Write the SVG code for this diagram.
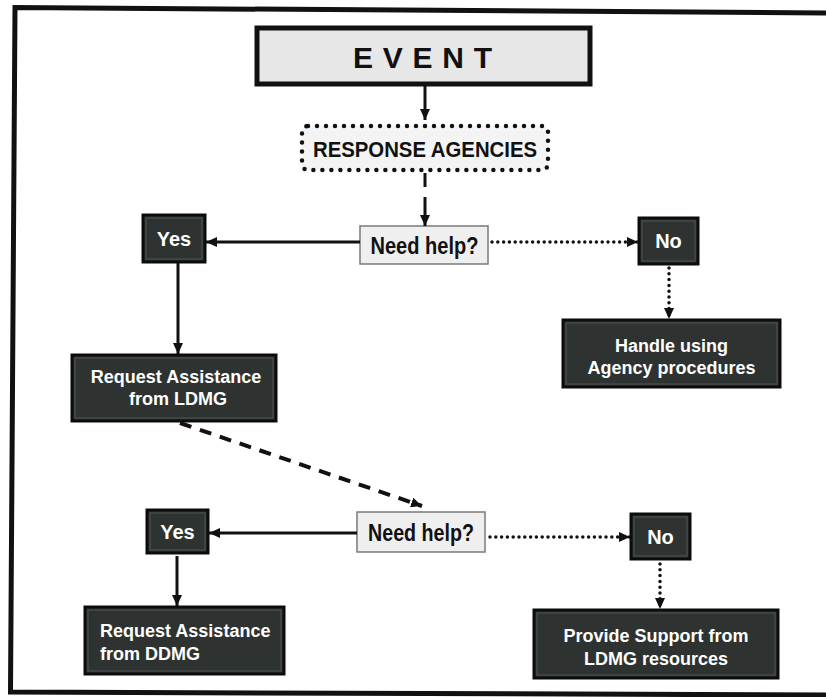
<svg xmlns="http://www.w3.org/2000/svg" width="826" height="697" viewBox="0 0 826 697">
<defs>
<style>
.dark rect.box{fill:#2e3331;stroke:#0c0c0c;stroke-width:3}
.dark rect.rim{fill:none;stroke:#4a504e;stroke-width:1.2}
.wt{fill:#ffffff;font-family:"Liberation Sans",Arial,sans-serif;font-weight:bold;font-size:18px}
.yn{font-size:20px}
.q rect{fill:#efefef;stroke:#7a7a7a;stroke-width:1.5}
.bt{fill:#111;font-family:"Liberation Sans Narrow","Liberation Sans",Arial,sans-serif;font-weight:bold;font-size:24px}
.solid{fill:none;stroke:#111;stroke-width:3}
.dot{fill:none;stroke:#111;stroke-width:3.5;stroke-dasharray:0 5.8;stroke-linecap:round}
.dash{fill:none;stroke:#111;stroke-width:4;stroke-dasharray:12 9}
</style>
<marker id="ah" markerUnits="userSpaceOnUse" markerWidth="12" markerHeight="10" refX="11" refY="5" orient="auto">
<path d="M0,0 L11,5 L0,10 z" fill="#111"/>
</marker>
</defs>
<rect width="826" height="697" fill="#ffffff"/>
<path d="M826 13 L15 7.5 L10.5 692 L826 695" fill="none" stroke="#111" stroke-width="5"/>

<g id="event">
<rect x="257" y="28" width="333" height="56" fill="#e6e7e6" stroke="#111" stroke-width="5"/>
<text x="422.5" y="68" text-anchor="middle" textLength="139" lengthAdjust="spacing" style="fill:#111;font-family:'Liberation Sans',Arial,sans-serif;font-weight:bold;font-size:30px">EVENT</text>
</g>

<g id="response-agencies">
<rect x="302" y="126" width="246" height="44" rx="6" fill="#f4f4f4" stroke="#111" stroke-width="4.5" stroke-dasharray="0 9" stroke-linecap="round"/>
<text class="bt" x="425" y="157" text-anchor="middle" textLength="224" lengthAdjust="spacingAndGlyphs" style="font-size:22px">RESPONSE AGENCIES</text>
</g>

<g id="need-help-1" class="q">
<rect x="360" y="226" width="128" height="38"/>
<text class="bt" x="424.5" y="254" text-anchor="middle" textLength="108" lengthAdjust="spacingAndGlyphs">Need help?</text>
</g>

<g id="yes-1" class="dark">
<rect class="box" x="143" y="215" width="62" height="47"/>
<rect class="rim" x="146" y="218" width="56" height="41"/>
<text class="wt yn" x="174" y="246" text-anchor="middle">Yes</text>
</g>

<g id="no-1" class="dark">
<rect class="box" x="639" y="218" width="59" height="46"/>
<rect class="rim" x="642" y="221" width="53" height="40"/>
<text class="wt yn" x="668.5" y="248" text-anchor="middle">No</text>
</g>

<g id="handle-agency" class="dark">
<rect class="box" x="563" y="320" width="217" height="67"/>
<rect class="rim" x="566" y="323" width="211" height="61"/>
<text class="wt" x="671.5" y="352" text-anchor="middle">Handle using</text>
<text class="wt" x="671.5" y="374" text-anchor="middle">Agency procedures</text>
</g>

<g id="request-ldmg" class="dark">
<rect class="box" x="72" y="355" width="204" height="66"/>
<rect class="rim" x="75" y="358" width="198" height="60"/>
<text class="wt" x="176" y="383" text-anchor="middle">Request Assistance</text>
<text class="wt" x="178" y="405" text-anchor="middle">from LDMG</text>
</g>

<g id="need-help-2" class="q">
<rect x="357" y="512" width="128" height="40"/>
<text class="bt" x="421" y="541" text-anchor="middle" textLength="106" lengthAdjust="spacingAndGlyphs">Need help?</text>
</g>

<g id="yes-2" class="dark">
<rect class="box" x="147" y="510" width="61" height="43"/>
<rect class="rim" x="150" y="513" width="55" height="37"/>
<text class="wt yn" x="177.5" y="539" text-anchor="middle">Yes</text>
</g>

<g id="no-2" class="dark">
<rect class="box" x="631" y="514" width="59" height="45"/>
<rect class="rim" x="634" y="517" width="53" height="39"/>
<text class="wt yn" x="660.5" y="544" text-anchor="middle">No</text>
</g>

<g id="request-ddmg" class="dark">
<rect class="box" x="85" y="607" width="199" height="67"/>
<rect class="rim" x="88" y="610" width="193" height="61"/>
<text class="wt" x="100" y="637">Request Assistance</text>
<text class="wt" x="100" y="660">from DDMG</text>
</g>

<g id="provide-support" class="dark">
<rect class="box" x="534" y="610" width="244" height="68"/>
<rect class="rim" x="537" y="613" width="238" height="62"/>
<text class="wt" x="656" y="642" text-anchor="middle">Provide Support from</text>
<text class="wt" x="656" y="665" text-anchor="middle">LDMG resources</text>
</g>

<g id="connectors">
<line class="solid" x1="425" y1="86" x2="425" y2="120" marker-end="url(#ah)"/>
<line class="solid" x1="425" y1="173" x2="425" y2="226" stroke-dasharray="14 10 40" marker-end="url(#ah)"/>
<line class="solid" x1="360" y1="242" x2="206" y2="242" marker-end="url(#ah)"/>
<line class="dot" x1="492" y1="242" x2="638" y2="242" marker-end="url(#ah)"/>
<line class="dot" x1="669" y1="268" x2="669" y2="319" marker-end="url(#ah)"/>
<line class="solid" x1="178" y1="263" x2="178" y2="354" marker-end="url(#ah)"/>
<line class="dash" x1="180" y1="423" x2="422" y2="506" marker-end="url(#ah)"/>
<line class="solid" x1="357" y1="533" x2="209" y2="533" marker-end="url(#ah)"/>
<line class="dot" x1="490" y1="537" x2="630" y2="537" marker-end="url(#ah)"/>
<line class="solid" x1="177" y1="556" x2="177" y2="606" marker-end="url(#ah)"/>
<line class="dot" x1="660" y1="564" x2="660" y2="609" marker-end="url(#ah)"/>
</g>
</svg>
